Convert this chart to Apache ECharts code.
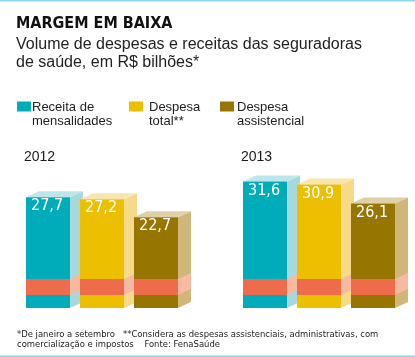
<!DOCTYPE html>
<html><head><meta charset="utf-8">
<script src="https://cdn.jsdelivr.net/npm/echarts@6/dist/echarts.min.js"></script>
<style>html,body{margin:0;padding:0;background:#fff}#c{width:415px;height:357px}</style>
</head><body><div id="c"></div>
<script>
const years = ['2012', '2013'];
const seriesNames = ['Receita de\nmensalidades', 'Despesa\ntotal**', 'Despesa\nassistencial'];
const receita = [27.7, 31.6];
const despesaTotal = [27.2, 30.9];
const despesaAssist = [22.7, 26.1];
const valueLabels = [['27,7', '31,6'], ['27,2', '30,9'], ['22,7', '26,1']];
const titleText = 'MARGEM EM BAIXA';
const subText = 'Volume de despesas e receitas das seguradoras\nde saúde, em R$ bilhões*';
const footText = '*De janeiro a setembro   **Considera as despesas assistenciais, administrativas, com\ncomercialização e impostos    Fonte: FenaSaúde';

const palette = [
  {front: '#00abba', side: '#a5d9de', top: '#bee5e9'},
  {front: '#ecbf00', side: '#f6da8a', top: '#f9e5ae'},
  {front: '#967500', side: '#cfb679', top: '#dfd0a5'}
];
const bandColor = '#ee6b4b', bandSide = '#f8b9a1';
const BAND = [3.25, 7.25];
const W = 44, DX = 13, DY = 6, STEP = 54;

function makeRender(si) {
  return function (params, api) {
    const cat = api.value(0), val = api.value(1);
    const base = api.coord([cat, 0]);
    const top = api.coord([cat, val]);
    const bLo = api.coord([cat, BAND[0]]);
    const bHi = api.coord([cat, BAND[1]]);
    const x0 = Math.round(base[0] + (si - 1) * STEP - W / 2);
    const x1 = x0 + W;
    const yb = base[1], yt = top[1];
    const c = palette[si];
    const children = [
      {type: 'polygon', shape: {points: [[x1, yt], [x1 + DX, yt - DY], [x1 + DX, yb - DY], [x1, yb]]}, style: {fill: c.side}},
      {type: 'polygon', shape: {points: [[x0, yt], [x0 + DX, yt - DY], [x1 + DX, yt - DY], [x1, yt]]}, style: {fill: c.top}},
      {type: 'rect', shape: {x: x0, y: yt, width: W, height: yb - yt}, style: {fill: c.front}},
      {type: 'polygon', shape: {points: [[x1, bHi[1]], [x1 + DX, bHi[1] - DY], [x1 + DX, bLo[1] - DY], [x1, bLo[1]]]}, style: {fill: bandSide}},
      {type: 'rect', shape: {x: x0, y: bHi[1], width: W, height: bLo[1] - bHi[1]}, style: {fill: bandColor}},
      {type: 'text', x: x0 + 5, y: yt + 1, style: {text: valueLabels[si][params.dataIndex], fill: '#fff', fontSize: 16, fontFamily: '"Liberation Sans Narrow", "DejaVu Sans Condensed", sans-serif', verticalAlign: 'top', align: 'left'}}
    ];
    if (si === 0) {
      children.push({type: 'text', x: x0 - 2, y: 150, style: {text: years[params.dataIndex], fill: '#1a1a1a', fontSize: 14, fontFamily: '"Liberation Sans", sans-serif', verticalAlign: 'top', align: 'left'}});
    }
    return {type: 'group', children: children};
  };
}

const dataSets = [receita, despesaTotal, despesaAssist];
const legendIcon = 'path://M0,0h14v10h-14z M0,24.9h0.01v0.01h-0.01z';
const legendLefts = [17, 129, 220];
const legendTextShift = [-4, 1, -2];

const chart = echarts.init(document.getElementById('c'), null, {renderer: 'canvas'});
chart.setOption({
  animation: false,
  title: [
    {text: titleText, subtext: subText, left: 16, top: 15, padding: 0, itemGap: 3,
     textStyle: {fontFamily: '"DejaVu Sans Condensed", sans-serif', fontWeight: 'bold', fontSize: 16, lineHeight: 18, color: '#111'},
     subtextStyle: {fontFamily: '"Liberation Sans", sans-serif', fontSize: 16, lineHeight: 18, color: '#222'}},
    {text: footText, left: 17, top: 330, padding: 0,
     textStyle: {fontFamily: '"DejaVu Sans Condensed", sans-serif', fontWeight: 'normal', fontSize: 9.4, lineHeight: 10, color: '#222'}}
  ],
  legend: seriesNames.map((n, i) => ({
    data: [n], left: legendLefts[i], top: 100, padding: 0, icon: legendIcon,
    itemWidth: 14, itemHeight: 25, itemGap: 0, selectedMode: false,
    textStyle: {fontFamily: '"Liberation Sans", sans-serif', fontSize: 13, lineHeight: 14, color: '#222', padding: [0, 0, 0, legendTextShift[i]]}
  })),
  grid: {left: 102, right: 96, top: 148, bottom: 49},
  xAxis: {type: 'category', data: years, boundaryGap: false, show: false},
  yAxis: {type: 'value', min: 0, max: 40, show: false},
  graphic: [
    {type: 'rect', shape: {x: 0, y: 0, width: 415, height: 1.5}, style: {fill: '#8fd6f2'}},
    {type: 'rect', shape: {x: 0, y: 355.5, width: 415, height: 1.5}, style: {fill: '#8fd6f2'}}
  ],
  series: dataSets.map((d, i) => ({
    type: 'custom', name: seriesNames[i], renderItem: makeRender(i),
    itemStyle: {color: palette[i].front},
    data: d.map((v, j) => [j, v])
  }))
});
</script></body></html>
